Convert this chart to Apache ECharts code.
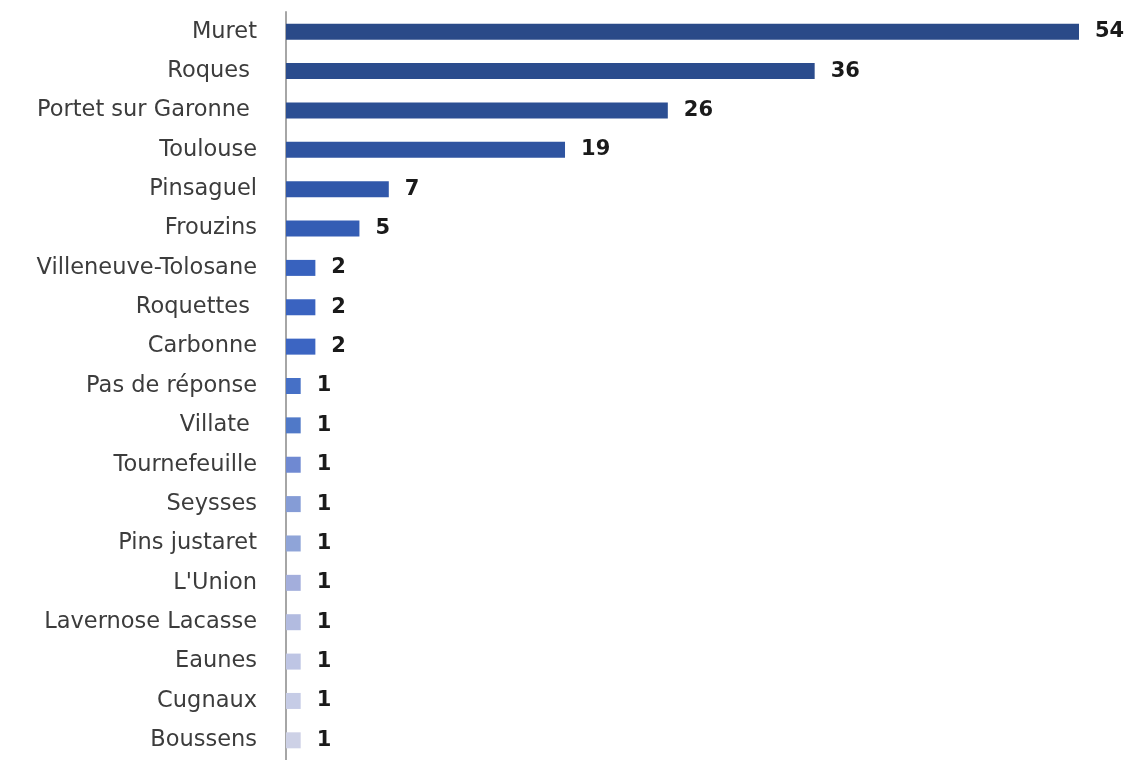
<!DOCTYPE html>
<html>
<head>
<meta charset="utf-8">
<script src="https://cdn.jsdelivr.net/npm/echarts@6/dist/echarts.min.js"></script>
<style>html,body{margin:0;padding:0;background:#fff}#c{width:1131px;height:760px}</style>
</head>
<body>
<div id="c"></div>
<script>
const categories = ["Muret", "Roques ", "Portet sur Garonne ", "Toulouse", "Pinsaguel", "Frouzins", "Villeneuve-Tolosane", "Roquettes ", "Carbonne", "Pas de réponse", "Villate ", "Tournefeuille", "Seysses", "Pins justaret", "L'Union", "Lavernose Lacasse", "Eaunes", "Cugnaux", "Boussens"];
const values = [54, 36, 26, 19, 7, 5, 2, 2, 2, 1, 1, 1, 1, 1, 1, 1, 1, 1, 1];
const colors = ["#2A4A88", "#2B4C8D", "#2C4F93", "#2F54A0", "#3158AA", "#345DB4", "#3862BE", "#3A63C0", "#3C65C2", "#4670C6", "#5079C8", "#6F89D2", "#859CD6", "#8FA4D8", "#A3AEDC", "#B2BBE0", "#BEC5E4", "#C6CCE6", "#CDD1E6"];

const chart = echarts.init(document.getElementById('c'), null, {renderer: 'canvas'});
chart.setOption({
  animation: false,
  backgroundColor: '#ffffff',
  grid: {left: 286, right: 52, top: 12, height: 760, containLabel: false},
  xAxis: {type: 'value', min: 0, max: 54, show: false},
  yAxis: {
    type: 'category', data: categories, inverse: true,
    axisLine: {show: true, lineStyle: {color: '#A6A6A6', width: 2}},
    axisTick: {show: false},
    axisLabel: {margin: 29, fontFamily: 'DejaVu Sans', fontSize: 22.5, color: '#3c3c3c'}
  },
  series: [{
    type: 'bar',
    data: values.map((v, i) => ({value: v, itemStyle: {color: colors[i]}})),
    barWidth: 16,
    label: {show: true, position: 'right', distance: 16, fontFamily: 'DejaVu Sans', fontWeight: 'bold', fontSize: 21, color: '#1a1a1a'}
  }]
});
</script>
</body>
</html>
